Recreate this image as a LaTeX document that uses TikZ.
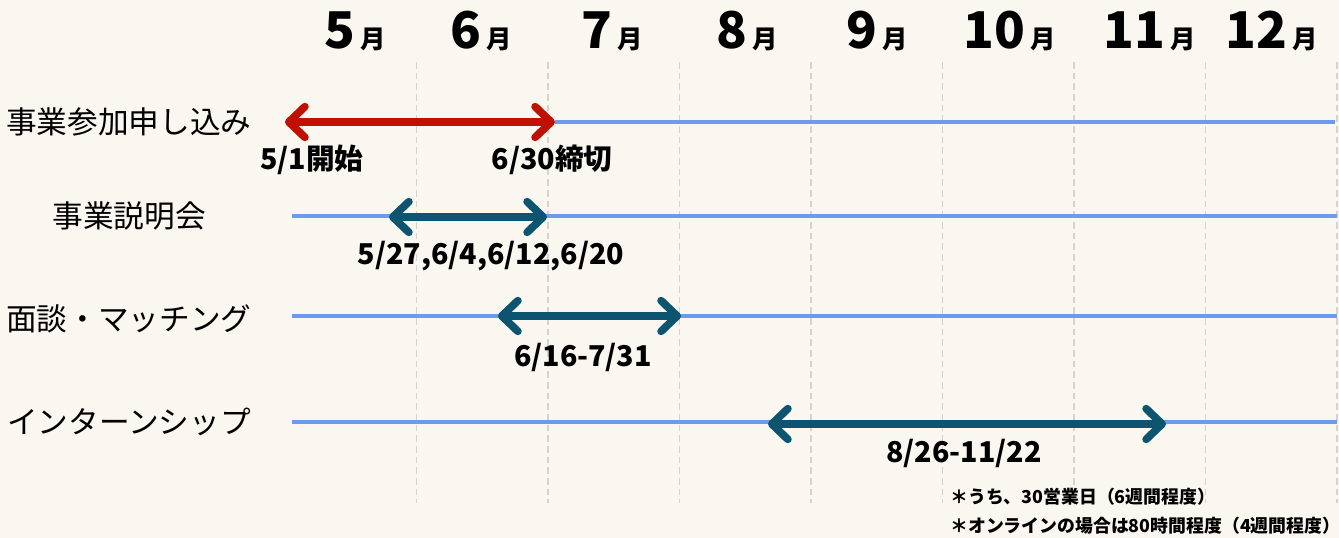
\documentclass[tikz,border=0pt]{standalone}
\usepackage{fontspec}
\setmainfont{Noto Sans CJK JP}
\usetikzlibrary{arrows.meta}
\definecolor{bgcream}{HTML}{FAF6F0}
\definecolor{barred}{HTML}{C01100}
\definecolor{barteal}{HTML}{0C5470}
\definecolor{lineblue}{HTML}{6B9AEF}
\definecolor{gridgray}{HTML}{D6D3CF}
\tikzset{
  rowlabel/.style={font=\fontsize{23}{27}\selectfont, inner sep=0pt},
  datelabel/.style={font=\fontsize{21.5}{25}\selectfont\bfseries, inner sep=0pt},
  notelabel/.style={font=\fontsize{13.4}{16}\selectfont\bfseries, anchor=west, inner sep=0pt},
  monthlabel/.style={anchor=base, inner sep=0pt},
  track/.style={lineblue, line width=2.4pt},
  period/.style={line width=5.8pt,
    {Straight Barb[round,length=12pt,width=23pt]}-{Straight Barb[round,length=12pt,width=23pt]}},
  gridline/.style={gridgray, line width=1.1pt, dash pattern=on 5pt off 3pt},
}
\begin{document}
\begin{tikzpicture}[x=0.75pt,y=-0.75pt]
  \fill[bgcream] (0,0) rectangle (1339,538);
  \useasboundingbox (0,0) rectangle (1339,538);
  % month columns
  \foreach \i in {1,...,8}
    \draw[gridline] ({285+131.5*\i},62) -- ({285+131.5*\i},503);
  \foreach \m/\x in {5/355,6/481,7/612,8/747,9/877,10/1010,11/1150,12/1272}
    \node[monthlabel] (m\m) at (\x,49)
      {{\fontsize{38}{40}\selectfont\bfseries\m}\hspace{4pt}{\fontsize{19}{22}\selectfont\bfseries 月}};
  % 事業参加申し込み
  \node[rowlabel] (apply) at (129,122) {事業参加申し込み};
  \coordinate (applyS) at (285,122);
  \coordinate (applyE) at (555,122);
  \coordinate (applyR) at (1335,122);
  \draw[track] (applyE) -- (applyR);
  \draw[period,barred] (applyS) -- (applyE);
  \node[datelabel] (applyopen) at (312,160) {5/1開始};
  \node[datelabel] (applyclose) at (552,160) {6/30締切};
  % 事業説明会
  \node[rowlabel] (brief) at (129,216) {事業説明会};
  \coordinate (briefL) at (292,216);
  \coordinate (briefR) at (1337,216);
  \coordinate (briefS) at (389,217);
  \coordinate (briefE) at (547,217);
  \draw[track] (briefL) -- (briefR);
  \draw[period,barteal] (briefS) -- (briefE);
  \node[datelabel] (briefdates) at (491,256) {5/27,6/4,6/12,6/20};
  % 面談・マッチング
  \node[rowlabel] (match) at (129,319) {面談・マッチング};
  \coordinate (matchL) at (292,316);
  \coordinate (matchR) at (1337,316);
  \coordinate (matchS) at (498,316);
  \coordinate (matchE) at (681,316);
  \draw[track] (matchL) -- (matchR);
  \draw[period,barteal] (matchS) -- (matchE);
  \node[datelabel] (matchdates) at (583,357) {6/16-7/31};
  % インターンシップ
  \node[rowlabel] (intern) at (129,422) {インターンシップ};
  \coordinate (internL) at (292,422);
  \coordinate (internR) at (1337,422);
  \coordinate (internS) at (768,424);
  \coordinate (internE) at (1166,424);
  \draw[track] (internL) -- (internR);
  \draw[period,barteal] (internS) -- (internE);
  \node[datelabel] (interndates) at (964,453) {8/26-11/22};
  % notes
  \node[notelabel] (note1) at (950,497) {＊うち、30営業日（6週間程度）};
  \node[notelabel] (note2) at (950,526) {＊オンラインの場合は80時間程度（4週間程度）};
\end{tikzpicture}
\end{document}
